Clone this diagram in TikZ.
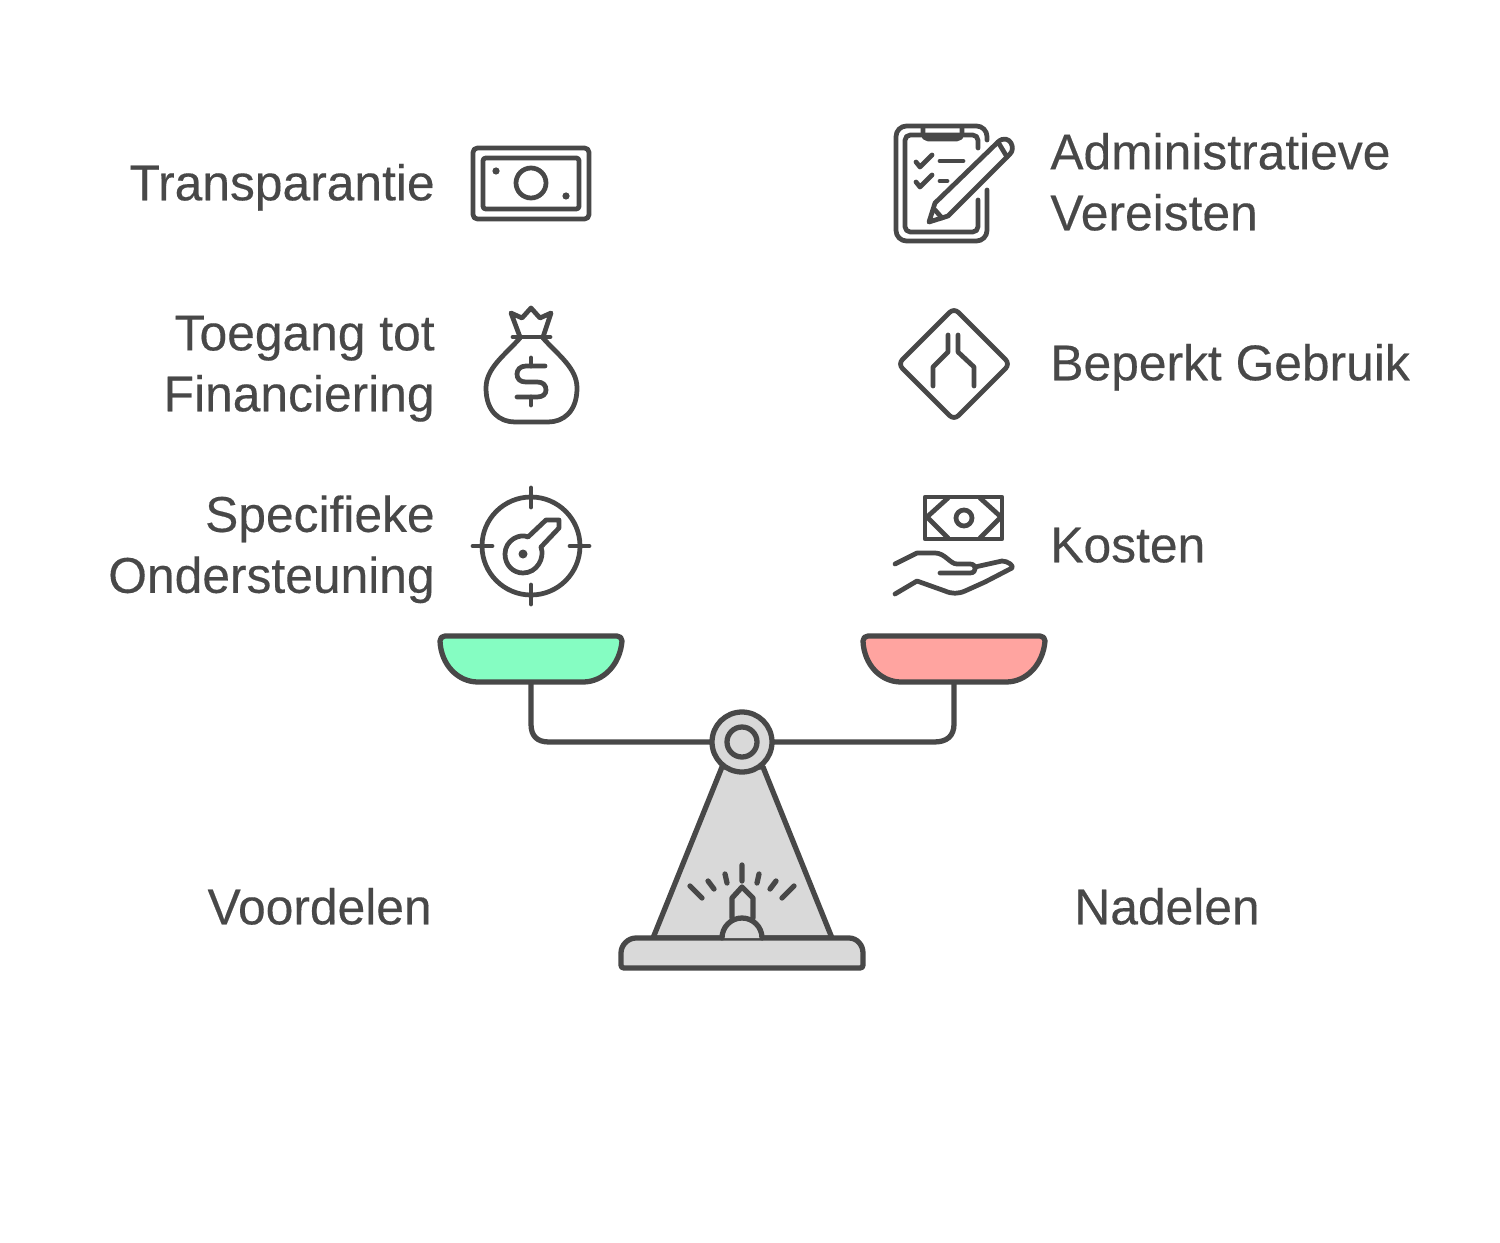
\documentclass[tikz,border=0pt]{standalone}
\usepackage{fontspec}
\setmainfont[FakeBold=0.25,FakeStretch=0.99]{Liberation Sans}
\definecolor{ink}{HTML}{484848}
\definecolor{gray}{HTML}{D9D9D9}
\definecolor{pro}{HTML}{85FDC2}
\definecolor{con}{HTML}{FFA4A0}
\tikzset{
  x=0.02cm,y=-0.02cm,
  icon/.style={draw=ink,line width=3pt,line cap=round,line join=round},
  thin icon/.style={icon,line width=2.7pt},
  lab/.style={text=ink,inner sep=0pt,font=\fontsize{28.6pt}{34.7pt}\selectfont,text height=21pt,text depth=7pt},
  labl/.style={lab,anchor=west,align=left},
  labr/.style={lab,anchor=east,align=right}
}
\begin{document}
\begin{tikzpicture}
\useasboundingbox[fill=white] (0,0) rectangle (1500,1243);
% labels
\node[labr] (transparantie) at (435,188) {Transparantie};
\node[labr] (toegang) at (435,399) {Toegang tot\\Financiering};
\node[labr] (specifieke) at (435,580.5) {Specifieke\\Ondersteuning};
\node[labl] (administratieve) at (1050,218) {Administratieve\\Vereisten};
\node[labl] (beperkt) at (1050,368) {Beperkt Gebruik};
\node[labl] (kosten) at (1050,550) {Kosten};
\node[labr] (voordelen) at (432,912) {Voordelen};
\node[labl] (nadelen) at (1074,912) {Nadelen};
% money note
\draw[thin icon,rounded corners=2.5pt] (473,148) rectangle (589,219);
\draw[thin icon,rounded corners=1.5pt] (483,158) rectangle (579,209);
\draw[thin icon] (531,183) circle (15);
\fill[ink] (496,171) circle (3.6) (566,196) circle (3.6);
% money bag
\draw[thin icon] (520,337) -- (511,313) -- (522,318) -- (531,308) -- (540,318) -- (551,313) -- (543,337);
\draw[thin icon] (513,337) -- (550,337);
\draw[thin icon] (520,338) .. controls (505,355) and (486,368) .. (486,388) .. controls (486,412) and (500,422) .. (515,422) -- (548,422) .. controls (563,422) and (577,412) .. (577,388) .. controls (577,368) and (558,355) .. (543,338);
\draw[thin icon] (531,358) -- (531,366) (531,397) -- (531,405);
\draw[thin icon] (545,366) -- (526,366) .. controls (520,366) and (517,370) .. (517,374) .. controls (517,379) and (520,382) .. (526,382) -- (537,382) .. controls (543,382) and (546,385) .. (546,390) .. controls (546,394) and (543,397) .. (537,397) -- (517,397);
% target with key
\draw[thin icon] (531,546) circle (49);
\draw[thin icon] (531,488) -- (531,507) (531,585) -- (531,604) (473,546) -- (492,546) (570,546) -- (589,546);
\draw[thin icon] (541,547) -- (559,528) -- (559,520) -- (546,520) -- (528,537) .. controls (520,533) and (505,540) .. (505,554) .. controls (505,565) and (513,573) .. (523,573) .. controls (537,573) and (545,558) .. (541,547);
\fill[ink] (523,554) circle (4.5);
% clipboard
\draw[thin icon,rounded corners=6pt] (987,140) -- (987,126) -- (896,126) -- (896,241) -- (987,241) -- (987,190);
\draw[thin icon,rounded corners=3pt] (978,148) -- (978,135) -- (905,135) -- (905,232) -- (978,232) -- (978,200);
\draw[thin icon,rounded corners=3pt] (923,127) -- (923,139) -- (962,139) -- (962,127);
\draw[thin icon] (916,162) -- (920,167) -- (932,155) (916,182) -- (920,187) -- (932,175);
\draw[thin icon] (940,161) -- (963,161) (940,181) -- (947,181);
\draw[thin icon] (929,222) -- (935,203) -- (998,142) .. controls (1003,137) and (1009,139) .. (1011,143) .. controls (1013,147) and (1013,151) .. (1010,154) -- (948,216) -- cycle;
\draw[thin icon] (998,142) -- (1007,157) (935,210) -- (942,218);
% diamond road sign
\draw[thin icon,rounded corners=3.5pt] (954,308) -- (1010,364) -- (954,420) -- (898,364) -- cycle;
\draw[thin icon] (948,335) -- (948,352) -- (933,367) -- (933,386);
\draw[thin icon] (958,335) -- (958,352) -- (974,367) -- (974,386);
% money in hand
\draw[thin icon] (925,497) rectangle (1002,539);
\draw[thin icon] (948,498) -- (927,517) -- (948,538) (980,498) -- (1001,517) -- (980,538);
\draw[thin icon] (964,518) circle (8);
\draw[thin icon] (895,564) -- (917,553) -- (935,553) .. controls (945,553) and (950,564) .. (957,564) -- (970,564) .. controls (977,564) and (977,573) .. (970,573) -- (940,573);
\draw[thin icon] (975,567) -- (1002,561) .. controls (1008,561) and (1014,566) .. (1012,568) -- (985,582) -- (965,591) .. controls (958,594) and (952,594) .. (945,591) -- (917,581) -- (895,594);
% beam
\draw[icon] (531,682) -- (531,724) .. controls (531,736) and (537,742) .. (549,742) -- (934,742) .. controls (947,742) and (954,736) .. (954,724) -- (954,682);
% pans
\draw[icon,fill=pro] (445,636) -- (617,636) .. controls (620,636) and (622,638) .. (622,641) .. controls (620,665) and (603,682) .. (583,682) -- (478,682) .. controls (458,682) and (441,665) .. (440,641) .. controls (440,638) and (442,636) .. (445,636) -- cycle;
\draw[icon,fill=con] (868,636) -- (1040,636) .. controls (1043,636) and (1045,638) .. (1045,641) .. controls (1043,665) and (1026,682) .. (1006,682) -- (901,682) .. controls (881,682) and (864,665) .. (863,641) .. controls (863,638) and (865,636) .. (868,636) -- cycle;
% scale body
\draw[icon,fill=gray] (722,767) -- (653,938) -- (832,938) -- (763,767) -- cycle;
\draw[icon,fill=gray] (742,742) circle (30);
\draw[icon] (742,742) circle (15);
\draw[icon,fill=gray] (636,938) -- (849,938) .. controls (857,938) and (863,945) .. (863,953) -- (863,965) .. controls (863,967) and (862,968) .. (860,968) -- (624,968) .. controls (622,968) and (621,967) .. (621,965) -- (621,953) .. controls (621,945) and (628,938) .. (636,938) -- cycle;
\draw[icon,fill=gray] (722,938) arc[start angle=180,end angle=360,radius=20];
\draw[icon] (732,918) -- (732,898) -- (742,887) -- (753,898) -- (753,918);
\draw[icon] (742,865) -- (742,881) (725,874) -- (727,883) (708,881) -- (714,889) (690,886) -- (702,898)
  (759,874) -- (757,883) (776,881) -- (770,889) (794,886) -- (782,898);
\end{tikzpicture}
\end{document}
